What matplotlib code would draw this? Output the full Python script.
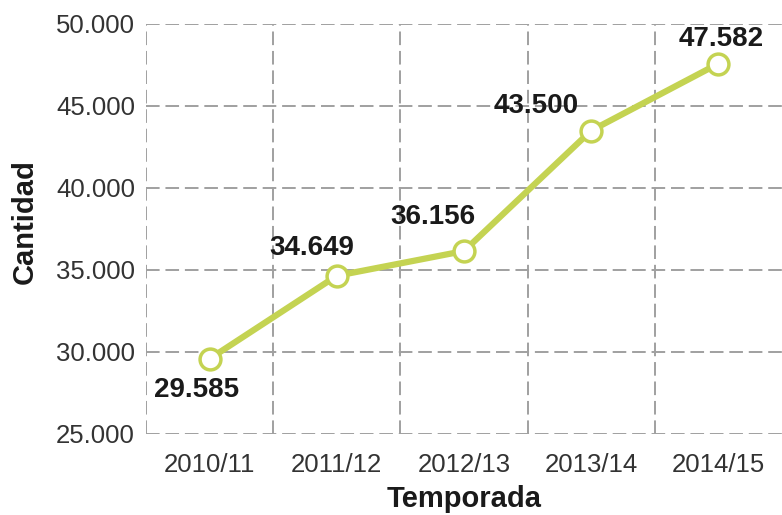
import matplotlib.pyplot as plt
from matplotlib.ticker import FuncFormatter, MultipleLocator, FixedLocator

plt.rcParams['font.family'] = ['Liberation Sans', 'DejaVu Sans']

temporadas = ['2010/11', '2011/12', '2012/13', '2013/14', '2014/15']
cantidad = [29585, 34649, 36156, 43500, 47582]
# label offsets in pixels relative to each point
offsets = [(-13, -31), (-25, 28), (-31, 34), (-55, 25), (3, 25)]

line_color = '#c4d352'
grid_color = '#a0a0a0'


def miles(v, pos=None):
    return f'{int(v):,}'.replace(',', '.')


fig = plt.figure(figsize=(7.82, 5.15), dpi=100)
ax = fig.add_axes([0.1867, 0.1573, 0.8133, 0.7961])

x = list(range(len(temporadas)))
ax.plot(x, cantidad, color=line_color, lw=4.5, marker='o', ms=15,
        mfc='white', mec=line_color, mew=2.5, zorder=3, solid_capstyle='round')

for xi, v, (dx, dy) in zip(x, cantidad, offsets):
    ax.annotate(miles(v), (xi, v), xytext=(dx, dy), textcoords='offset pixels',
                ha='center', va='center', fontsize=20, fontweight='bold',
                color='#1a1a1a', zorder=4)

ax.set_xlim(-0.5, 4.5)
ax.set_ylim(25000, 50000)
ax.set_xticks(x)
ax.set_xticklabels(temporadas)
# vertical lines sit between seasons (none on the far right edge)
ax.xaxis.set_minor_locator(FixedLocator([i - 0.5 for i in x]))
ax.yaxis.set_major_locator(MultipleLocator(5000))
ax.yaxis.set_major_formatter(FuncFormatter(miles))

ax.tick_params(axis='both', which='both', length=0, labelsize=18.5, labelcolor='#333333')
ax.tick_params(axis='y', pad=8)
ax.tick_params(axis='x', pad=14)

for s in ax.spines.values():
    s.set_visible(False)

ax.grid(axis='y', which='major', color=grid_color, lw=1.4, ls=(0, (7, 3)))
ax.grid(axis='x', which='minor', color=grid_color, lw=1.4, ls=(0, (7, 3)))
ax.grid(axis='x', which='major', visible=False)
ax.set_axisbelow(True)

fig.text(0.032, 0.57, 'Cantidad', rotation=90, ha='center', va='center',
         fontsize=21, fontweight='bold', color='#1a1a1a')
fig.text(0.593, 0.032, 'Temporada', ha='center', va='center',
         fontsize=21, fontweight='bold', color='#1a1a1a')

fig.savefig('out.png', dpi=100)
